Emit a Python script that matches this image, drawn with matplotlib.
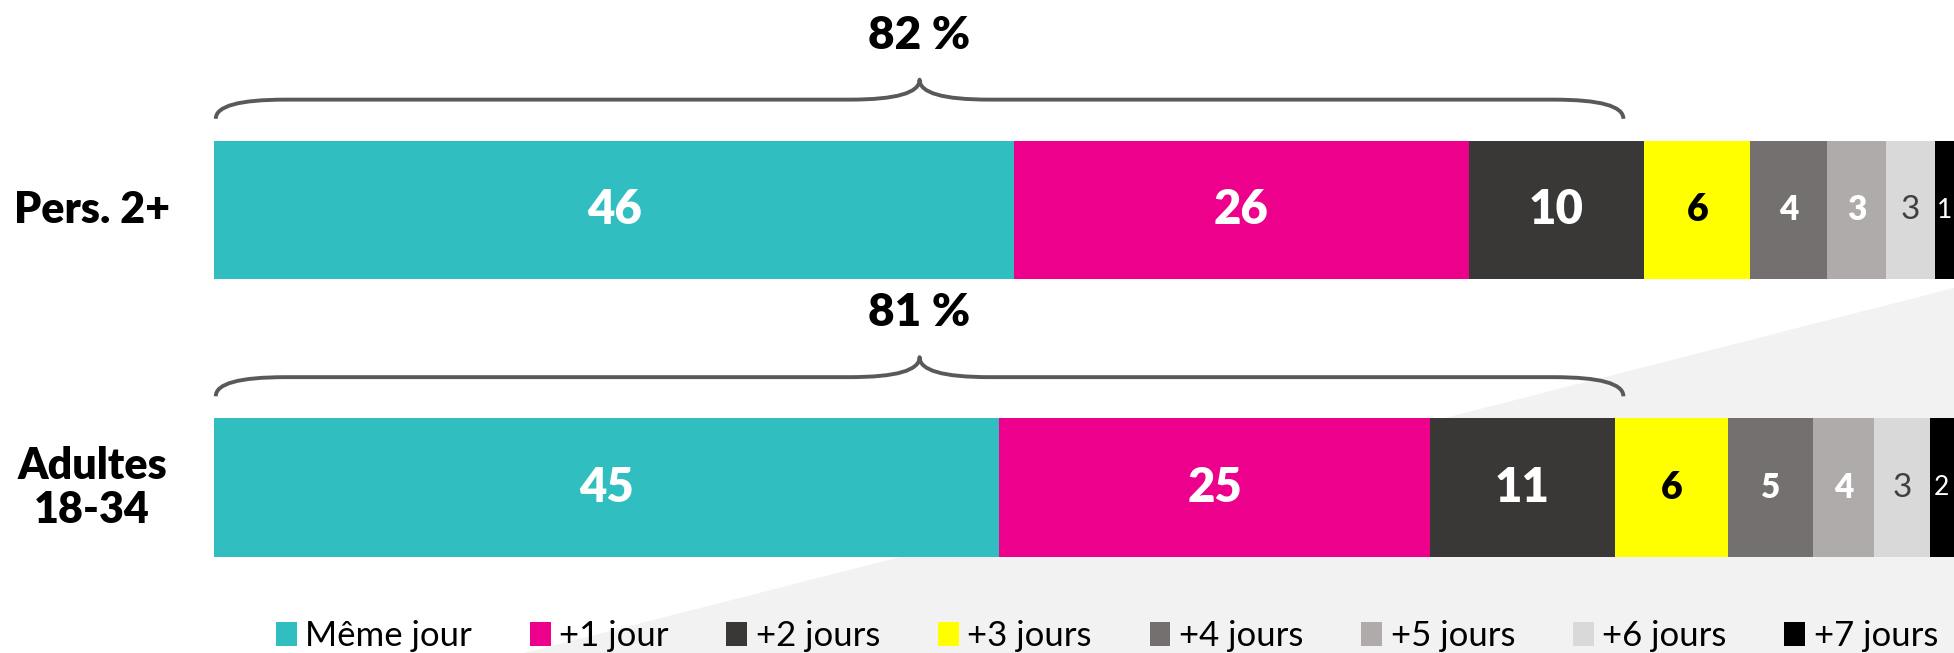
import numpy as np
import matplotlib
matplotlib.use("Agg")
import matplotlib.pyplot as plt
from matplotlib.patches import Patch, Polygon, PathPatch
from matplotlib.path import Path

plt.rcParams["font.family"] = ["Lato", "DejaVu Sans"]

# -------------------------------------------------
# Data (share of viewing by delay, %)
# -------------------------------------------------
groups = ["Pers. 2+", "Adultes\n18-34"]
periods = ["Même jour", "+1 jour", "+2 jours", "+3 jours",
           "+4 jours", "+5 jours", "+6 jours", "+7 jours"]
pers_values = [46.0, 26.1, 10.1, 6.1, 4.4, 3.4, 2.8, 1.1]
adultes_values = [45.1, 24.8, 10.6, 6.5, 4.9, 3.5, 3.2, 1.4]
pers_labels = ["46", "26", "10", "6", "4", "3", "3", "1"]
adultes_labels = ["45", "25", "11", "6", "5", "4", "3", "2"]
totals = ["82 %", "81 %"]
brace_spans = [81, 81]

# -------------------------------------------------
# Style
# -------------------------------------------------
colors = ["#31BEC0", "#EC008C", "#3A3836", "#FFFF00",
          "#757070", "#AFABAB", "#D9D9D9", "#000000"]
label_colors = ["white", "white", "white", "black",
                "white", "white", "#404040", "white"]
label_weights = ["heavy"] * 6 + ["normal", "normal"]
label_sizes = [34, 34, 34, 27, 24, 24, 24, 19]
brace_color = "#595959"

fig = plt.figure(figsize=(19.54, 6.53), dpi=100)

# light grey background wedge
fig.add_artist(Polygon([(524 / 1954, 0), (1, 1 - 288 / 653), (1, 0)],
                       closed=True, transform=fig.transFigure,
                       facecolor="#F2F2F2", edgecolor="none", zorder=0))

ax = fig.add_axes([0, 0, 1, 1])
ax.set_zorder(1)
ax.patch.set_visible(False)
ax.set_xlim(-12.3, 100)
ax.set_ylim(1.596, -0.757)
ax.axis("off")

bar_h = 0.5


def draw_brace(x0, x1, y_top):
    y_end = y_top - 0.079
    y_line = y_top - 0.148
    y_tip = y_top - 0.22
    xc = (x0 + x1) / 2
    w = 4.0
    verts = [(x0, y_end), (x0, y_line), (x0 + w, y_line),
             (xc - w, y_line),
             (xc, y_line), (xc, y_tip),
             (xc, y_line), (xc + w, y_line),
             (x1 - w, y_line),
             (x1, y_line), (x1, y_end)]
    codes = [Path.MOVETO, Path.CURVE3, Path.CURVE3,
             Path.LINETO,
             Path.CURVE3, Path.CURVE3,
             Path.CURVE3, Path.CURVE3,
             Path.LINETO,
             Path.CURVE3, Path.CURVE3]
    ax.add_patch(PathPatch(Path(verts, codes), facecolor="none",
                           edgecolor=brace_color, lw=2.8,
                           capstyle="butt", joinstyle="round"))


for i, (vals, labs) in enumerate([(pers_values, pers_labels),
                                  (adultes_values, adultes_labels)]):
    vals = np.array(vals)
    lefts = np.cumsum(vals) - vals
    ax.barh(i, vals, left=lefts, height=bar_h, color=colors, edgecolor="none")
    for j in range(len(vals)):
        ax.text(lefts[j] + vals[j] / 2, i, labs[j], ha="center", va="center",
                color=label_colors[j], fontsize=label_sizes[j],
                fontweight=label_weights[j])

    ax.text(-7.0, i, groups[i], ha="center", va="center", fontsize=31,
            fontweight="heavy", linespacing=1.12)

    draw_brace(0.1, brace_spans[i], i - bar_h / 2)
    ax.text(brace_spans[i] / 2, i - bar_h / 2 - 0.38, totals[i],
            ha="center", va="center", fontsize=33, fontweight="heavy")

handles = [Patch(facecolor=c, edgecolor="none") for c in colors]
fig.legend(handles, periods, loc="center", bbox_to_anchor=(0.5665, 0.026),
           ncol=8, frameon=False, fontsize=25, handlelength=0.6,
           handleheight=0.7, handletextpad=0.25, columnspacing=1.66,
           borderpad=0, borderaxespad=0)

fig.savefig("out.png", dpi=100)
